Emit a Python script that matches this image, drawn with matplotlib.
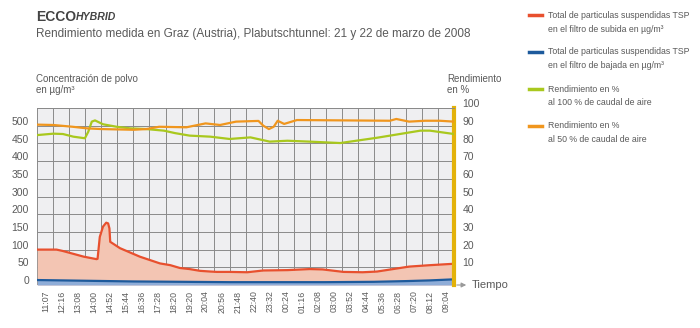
import matplotlib
matplotlib.use("Agg")
import matplotlib.pyplot as plt
from matplotlib.transforms import ScaledTranslation

plt.rcParams['font.family'] = ['Liberation Sans', 'DejaVu Sans']

#  ------- Data -------  #
time_labels = ["11:07", "12:16", "13:08", "14:00", "14:52", "15:44", "16:36", "17:28",
               "18:20", "19:20", "20:04", "20:56", "21:48", "22:40", "23:32", "00:24",
               "01:16", "02:08", "03:00", "03:52", "04:44", "05:36", "06:28", "07:20",
               "08:12", "09:04"]
dust_tick_labels = ["0", "50", "100", "150", "200", "300", "350", "400", "450", "500"]

# TSP upstream filter (µg/m³), x in time slots
t_up = [0, 1.2, 1.6, 2.25, 2.9, 3.7, 3.76, 3.9, 4.1, 4.3, 4.42, 4.5, 4.55, 5.16, 6.4, 7.65,
        8.3, 8.9, 9.5, 10.15, 10.8, 11.2, 12.0, 13.1, 14.1, 15.6, 17.0, 17.8, 19.1, 20.3,
        21.2, 22.2, 23.2, 24.5, 26]
tsp_up = [100, 100, 96, 88, 80, 73, 74, 136, 165, 176, 174, 160, 122, 104, 80, 61,
          56, 48, 45, 40, 38, 37, 37, 36, 41, 42, 45, 44, 37, 36,
          38, 45, 52, 56, 60]

# TSP downstream filter (µg/m³)
t_down = [0, 3, 6, 9, 12, 15, 18, 21, 23, 24.5, 26]
tsp_down = [14, 12, 10, 9, 8, 8, 8, 9, 11, 13, 16]

# efficiency at 100 % air flow (%)
t_100 = [0, 1.0, 1.6, 2.25, 2.97, 3.18, 3.4, 3.6, 4.1, 4.95, 5.8, 6.8, 7.9, 8.6, 9.5,
         10.8, 12.0, 13.3, 14.5, 15.6, 17.0, 18.9, 21.2, 23.9, 24.5, 26]
eff_100 = [84.7, 85.5, 85.3, 83.8, 82.9, 86.6, 92.3, 93.0, 90.8, 89.4, 88.5, 88.1, 87.2, 85.8, 84.4,
           83.8, 82.5, 83.4, 81.0, 81.5, 81.0, 80.2, 83.2, 87.2, 87.2, 85.3]

# efficiency at 50 % air flow (%)
t_50 = [0, 1.0, 2.2, 3.1, 4.0, 6.0, 6.8, 7.6, 9.3, 10.5, 11.4, 12.4, 13.8, 14.1, 14.45,
        14.75, 15.0, 15.4, 16.2, 22.0, 22.4, 23.2, 24.2, 25.1, 26]
eff_50 = [90.6, 90.4, 89.4, 88.5, 88.1, 87.7, 88.1, 89.4, 89.1, 91.3, 90.4, 92.3, 92.7, 90.0, 88.1,
          89.4, 92.8, 91.0, 93.2, 92.8, 93.8, 92.3, 92.8, 92.8, 92.3]

legend_items = [
    ("#e8502e", "Total de particulas suspendidas TSP", "en el filtro de subida en µg/m³"),
    ("#1d5a9c", "Total de particulas suspendidas TSP", "en el filtro de bajada en µg/m³"),
    ("#a9c81e", "Rendimiento en %", "al 100 % de caudal de aire"),
    ("#f0961e", "Rendimiento en %", "al 50 % de caudal de aire"),
]

#  ------- Plot -------  #
W, H = 700, 328
TXT = "#5a5a5a"


def px(x, y):
    return x / W, 1 - y / H


fig = plt.figure(figsize=(7, 3.28), dpi=100)
ax = fig.add_axes([37.3 / W, 1 - 285 / H, (454 - 37.3) / W, (285 - 108) / H])
ax.set_facecolor("#efeff1")
ax.set_xlim(0, 26)
ax.set_ylim(0, 500)

ax.fill_between(t_up, 0, tsp_up, color="#f3c5b3", lw=0, zorder=1)
ax.fill_between(t_down, 0, tsp_down, color="#8fadd8", lw=0, zorder=1.5)
ax.plot(t_up, tsp_up, color="#e8502e", lw=1.6, zorder=3)
ax.plot(t_down, tsp_down, color="#1d5a9c", lw=1.6, zorder=3)

# grid
ax.set_xticks(range(27), minor=True)
ax.set_xticks([i + 0.5 for i in range(26)])
ax.set_xticklabels(time_labels, rotation=90, fontsize=6.3, color=TXT)
ax.set_yticks(range(0, 500, 50))
ax.set_yticklabels(dust_tick_labels, fontsize=7.5, color=TXT)
ax.grid(which="minor", axis="x", color="#8a8a8a", lw=0.7, zorder=0)
ax.grid(which="major", axis="y", color="#8a8a8a", lw=0.7, zorder=0)
ax.set_axisbelow(True)
ax.tick_params(axis="both", which="both", length=0)
ax.tick_params(axis="x", pad=4)
ax.tick_params(axis="y", pad=6)

ax2 = ax.twinx()
ax2.set_ylim(0, 100)
ax2.plot(t_100, eff_100, color="#a9c81e", lw=1.6, zorder=3)
ax2.plot(t_50, eff_50, color="#f0961e", lw=1.6, zorder=3)
ax2.set_yticks(range(10, 101, 10))
ax2.set_yticklabels([str(v) for v in range(10, 101, 10)], fontsize=7.5, color=TXT)
ax2.tick_params(axis="y", length=0, pad=6)

for a in (ax, ax2):
    a.spines["bottom"].set_visible(False)
    a.spines["top"].set_color("#8a8a8a")
    a.spines["top"].set_linewidth(0.7)
    a.spines["left"].set_visible(False)
    a.spines["right"].set_visible(False)
ax2.spines["right"].set_visible(True)
ax2.spines["right"].set_color("#e3b20a")
ax2.spines["right"].set_linewidth(3)

# left edge: blue line with a thin red line just outside
ax.plot([0, 0], [0, 1], color="#1d5a9c", lw=1.6, zorder=4,
        transform=ax.get_yaxis_transform(), clip_on=False)
ax.plot([0, 0], [0, 1], color="#e8502e", lw=1.0, zorder=4, clip_on=False,
        transform=ax.get_yaxis_transform() + ScaledTranslation(-1.5 / 72, 0, fig.dpi_scale_trans))

# lift y tick labels a bit above their grid lines
up = ScaledTranslation(0, 3.5 / 72, fig.dpi_scale_trans)
for lbl in ax.get_yticklabels() + ax2.get_yticklabels():
    lbl.set_transform(lbl.get_transform() + up)

# time arrow
ax.annotate("", xy=(1.036, 0), xytext=(1.0, 0), xycoords="axes fraction",
            arrowprops=dict(arrowstyle="-|>", color="#9a9a9a", lw=0.8, mutation_scale=7))
ax.text(1.043, 0, "Tiempo", transform=ax.transAxes, fontsize=8, color=TXT, va="center")

# titles
fig.text(*px(36, 17), "ECCO", fontsize=10, fontweight="bold", color="#444444", va="center")
fig.text(*px(76, 17.5), "HYBRID", fontsize=7.6, fontweight="bold", style="italic",
         color="#444444", va="center")
fig.text(*px(36, 34), "Rendimiento medida en Graz (Austria), Plabutschtunnel: 21 y 22 de marzo de 2008",
         fontsize=8.45, color=TXT, va="center")
fig.text(*px(36, 79), "Concentración de polvo", fontsize=7.0, color=TXT, va="center")
fig.text(*px(36, 90), "en µg/m³", fontsize=7.0, color=TXT, va="center")
fig.text(*px(447, 79), "Rendimiento", fontsize=7.0, color=TXT, va="center")
fig.text(*px(447, 90), "en %", fontsize=7.0, color=TXT, va="center")

# legend
leg_y = [15, 52, 89, 126]
for (col, l1, l2), y in zip(legend_items, leg_y):
    fig.add_artist(plt.Line2D([529 / W, 542 / W], [1 - y / H, 1 - y / H], color=col, lw=2.5))
    fig.text(*px(548, y), l1, fontsize=6.3, color=TXT, va="center")
    fig.text(*px(548, y + 14), l2, fontsize=6.3, color=TXT, va="center")

fig.savefig("out.png", dpi=100)
